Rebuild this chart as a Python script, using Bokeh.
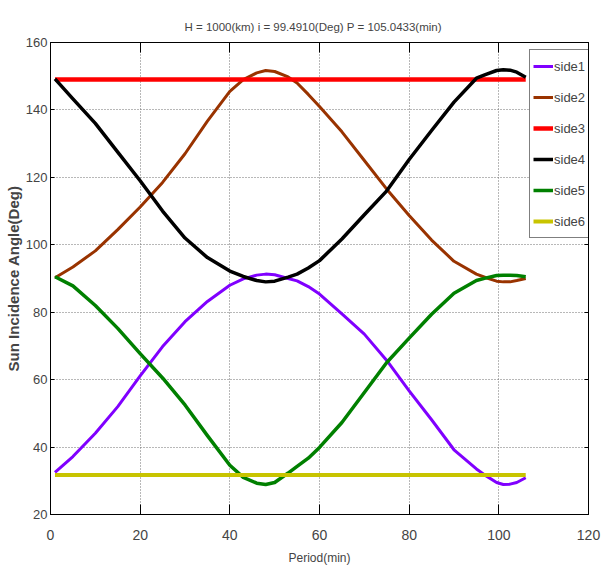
from bokeh.plotting import figure
from bokeh.models import Range1d, LinearAxis, SingleIntervalTicker
from bokeh.embed import file_html
from bokeh.resources import INLINE

title_text = "H = 1000(km)  i = 99.4910(Deg)    P = 105.0433(min)"
x_label = "Period(min)"
y_label = "Sun Incidence Angle(Deg)"
series_names = ["side1", "side2", "side3", "side4", "side5", "side6"]
series_colors = ["#8000FF", "#993300", "#FF0000", "#000000", "#008000", "#C8C400"]
series_widths = [3, 3, 4.5, 3.5, 3.5, 4]

period = [1, 5, 10, 15, 20, 25, 30, 35, 40, 43, 46, 48, 50, 53, 55, 57.5, 60, 65, 70, 75,
          80, 85, 90, 95, 97, 99.5, 101, 102.5, 104, 106]
side1 = [32.5, 37.2, 44.1, 52.0, 61.1, 69.8, 77.2, 83.2, 88.0, 89.9, 91.0, 91.3, 91.1, 90.0, 89.3, 87.6,
         85.4, 79.5, 73.5, 65.7, 56.7, 48.1, 39.2, 33.5, 31.6, 29.5, 28.9, 29.0, 29.5, 30.9]
side2 = [90.2, 93.4, 98.2, 104.5, 111.2, 118.5, 127.0, 136.7, 145.5, 149.0, 151.0, 151.7, 151.4, 149.8,
         148.0, 144.6, 141.0, 133.5, 125.0, 116.5, 108.7, 101.4, 95.1, 91.3, 90.3, 89.2, 89.0, 89.0, 89.4, 90.0]
side4 = [149.2, 143.3, 136.0, 127.5, 119.0, 110.0, 102.0, 96.2, 92.2, 90.6, 89.4, 89.0, 89.2, 90.4, 91.3,
         93.1, 95.3, 101.7, 108.9, 116.0, 125.3, 133.9, 142.3, 149.4, 150.5, 151.7, 151.9, 151.8, 151.2, 149.7]
side5 = [90.5, 87.8, 82.0, 75.2, 67.7, 60.5, 52.5, 43.4, 34.6, 31.0, 29.3, 28.9, 29.5, 32.3, 34.3, 36.7,
         39.9, 47.3, 56.2, 65.1, 72.3, 79.4, 85.6, 89.4, 90.1, 90.9, 91.0, 91.0, 90.9, 90.5]
period_ends = [1, 106]
side3 = [149.0, 149.0]
side6 = [31.7, 31.7]

FONT = "Liberation Sans"

p = figure(width=604, height=567, x_range=Range1d(0, 120), y_range=Range1d(20, 160),
           output_backend="svg", toolbar_location=None, title=title_text,
           min_border_left=50, min_border_right=16, min_border_top=42, min_border_bottom=53)

p.title.align = "center"
p.title.text_font = FONT
p.title.text_font_size = "11.5px"
p.title.text_font_style = "normal"
p.title.standoff = 19

p.outline_line_color = "#000000"
p.background_fill_color = "white"

xs = [period, period, period_ends, period, period, period_ends]
ys = [side1, side2, side3, side4, side5, side6]
for xv, yv, name, col, w in zip(xs, ys, series_names, series_colors, series_widths):
    p.line(xv, yv, line_color=col, line_width=w, legend_label=name, line_join="round")

for ax in p.xaxis:
    ax.ticker = SingleIntervalTicker(interval=20)
for ax in p.yaxis:
    ax.ticker = SingleIntervalTicker(interval=20)

xa = p.xaxis[0]
xa.axis_label = x_label
xa.axis_label_text_font = FONT
xa.axis_label_text_font_size = "12px"
xa.axis_label_text_font_style = "normal"
xa.axis_label_standoff = 8
xa.major_label_text_font = FONT
xa.major_label_text_font_size = "14px"
xa.major_label_standoff = 15
xa.major_tick_in = 10
xa.major_tick_out = 0
xa.minor_tick_in = 0
xa.minor_tick_out = 0
xa.axis_line_color = "#000000"

ya = p.yaxis[0]
ya.axis_label = y_label
ya.axis_label_text_font = FONT
ya.axis_label_text_font_size = "15px"
ya.axis_label_text_font_style = "bold"
ya.axis_label_standoff = 1
ya.major_label_text_font = FONT
ya.major_label_text_font_size = "13px"
ya.major_label_standoff = 3
ya.major_tick_in = 4
ya.major_tick_out = 0
ya.minor_tick_in = 0
ya.minor_tick_out = 0
ya.axis_line_color = "#000000"

top_axis = LinearAxis(ticker=SingleIntervalTicker(interval=20), major_tick_in=10, major_tick_out=0,
                      minor_tick_in=0, minor_tick_out=0, major_label_text_font_size="1px",
                      major_label_text_color=None, major_label_standoff=0, axis_line_color="#000000")
right_axis = LinearAxis(ticker=SingleIntervalTicker(interval=20), major_tick_in=4, major_tick_out=0,
                        minor_tick_in=0, minor_tick_out=0, major_label_text_font_size="1px",
                        major_label_text_color=None, major_label_standoff=0, axis_line_color="#000000")
p.add_layout(top_axis, "above")
p.add_layout(right_axis, "right")

for g in (p.xgrid[0], p.ygrid[0]):
    g.grid_line_color = "#707070"
    g.grid_line_dash = "1 2"
    g.grid_line_width = 1

lg = p.legend[0]
lg.location = (479, 276)
lg.border_line_color = "#000000"
lg.border_line_width = 1
lg.background_fill_color = "white"
lg.background_fill_alpha = 1.0
lg.padding = 3
lg.margin = 0
lg.spacing = 5
lg.label_height = 26
lg.glyph_height = 26
lg.glyph_width = 20
lg.label_standoff = 1
lg.label_text_font = FONT
lg.label_text_font_size = "13px"

open("out.html", "w").write(file_html(p, INLINE))
